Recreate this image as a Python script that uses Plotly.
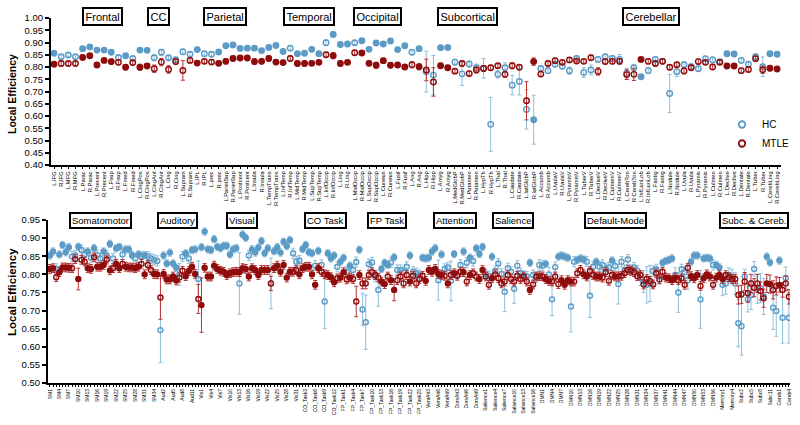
import plotly.graph_objects as go

# ---------------- TOP PANEL DATA (AAL-like regions) ----------------
TOP_REGIONS = ["L.IFG","R.IFG","L.MFG","R.MFG","L.Parac","R.Parac","L.Precent","R.Precent","L.Fsup","R.Fsup",
 "L.Fmed","R.Fmed","L.CingPos","R.CingPos","L.CingAnt","R.CingAnt","L.Cing","R.Cing","L.Supram","R.Supram",
 "L.IPL","R.IPL","L.prec","R.prec","L.ParietSup","R.ParietSup","L.Postcent","R.Postcent","L.Insula","R.Insula",
 "L.TempTrans","R.TempTrans","L.InfTemp","R.InfTemp","L.MidTemp","R.MidTemp","L.SupTemp","R.SupTemp","L.InfOccip","R.InfOccip",
 "L.Ling","R.Ling","L.MidOccip","R.MidOccip","L.SupOccip","R.SupOccip","L.Cuneus","R.Cuneus","L.Fusif","R.Fusif",
 "L.Ang","R.Ang","L.Hipp","R.Hipp","L.Amyg","R.Amyg","L.MedGlobP","R.MedGlobP","L.Putamen","R.Putamen",
 "L.HypTh","R.HypTh","L.Thal","R.Thal","L.Caudate","R.Caudate","L.latGlobP","R.latGlobP","L.Accumb","R.Accumb",
 "L.UvulaV","R.UvulaV","L.PyramisV","R.PyramisV","L.TuberV","R.TuberV","L.DecliveV","R.DecliveV","L.CulmenV","R.CulmenV",
 "L.CerebTon","R.CerebTon","L.InfLunLob","R.InfLunLob","L.Fastig","R.Fastig","L.Nodule","R.Nodule","L.Uvula","R.Uvula",
 "L.Pyramis","R.Pyramis","L.Culmen","R.Culmen","L.Declive","R.Declive","L.Dentate","R.Dentate","L.Tuber","R.Tuber",
 "L.CerebLing","R.CerebLing"]

TOP_HC = [0.856,0.842,0.849,0.842,0.875,0.882,0.869,0.869,0.860,0.839,
 0.846,0.835,0.869,0.868,0.838,0.860,0.838,0.830,0.862,0.852,
 0.871,0.854,0.852,0.861,0.887,0.890,0.876,0.877,0.877,0.867,
 0.880,0.888,0.863,0.877,0.854,0.856,0.872,0.854,0.899,0.933,
 0.892,0.894,0.899,0.907,0.872,0.898,0.894,0.906,0.871,0.887,
 0.860,0.875,0.781,0.767,0.879,0.880,0.820,0.772,0.812,0.797,
 0.795,0.566,0.770,0.797,0.726,0.741,0.627,0.585,0.794,0.785,
 0.811,0.803,0.785,0.835,0.778,0.788,0.831,0.842,0.835,0.831,
 0.775,0.797,0.760,0.785,0.831,0.823,0.692,0.781,0.809,0.801,
 0.793,0.834,0.829,0.822,0.854,0.853,0.827,0.811,0.842,0.801,
 0.854,0.852]
TOP_HC_ERR = [0.008,0.007,0.008,0.008,0.006,0.006,0.006,0.006,0.008,0.008,
 0.008,0.008,0.010,0.008,0.012,0.012,0.008,0.010,0.010,0.008,
 0.006,0.010,0.008,0.008,0.008,0.008,0.008,0.008,0.008,0.006,
 0.006,0.006,0.008,0.008,0.006,0.006,0.006,0.006,0.012,0.010,
 0.008,0.008,0.008,0.008,0.006,0.008,0.008,0.006,0.008,0.008,
 0.010,0.008,0.083,0.080,0.006,0.006,0.012,0.047,0.012,0.015,
 0.040,0.110,0.015,0.020,0.040,0.055,0.080,0.100,0.010,0.012,
 0.010,0.010,0.015,0.010,0.020,0.020,0.010,0.010,0.012,0.020,
 0.020,0.012,0.008,0.012,0.010,0.010,0.078,0.020,0.012,0.012,
 0.010,0.010,0.012,0.010,0.008,0.008,0.010,0.010,0.012,0.040,
 0.008,0.008]
TOP_MTLE = [0.811,0.814,0.814,0.814,0.839,0.846,0.808,0.827,0.822,0.819,
 0.799,0.818,0.799,0.804,0.793,0.820,0.790,0.822,0.786,0.827,
 0.816,0.823,0.820,0.815,0.823,0.835,0.837,0.837,0.822,0.823,
 0.835,0.820,0.818,0.835,0.814,0.814,0.815,0.819,0.850,0.846,
 0.814,0.819,0.858,0.857,0.815,0.807,0.826,0.807,0.808,0.800,
 0.809,0.801,0.788,0.739,0.805,0.797,0.783,0.814,0.773,0.788,
 0.794,0.797,0.805,0.770,0.805,0.799,0.662,0.822,0.771,0.814,
 0.826,0.819,0.829,0.824,0.823,0.838,0.782,0.822,0.823,0.823,
 0.769,0.770,0.831,0.823,0.814,0.823,0.799,0.809,0.784,0.797,
 0.822,0.819,0.800,0.819,0.804,0.804,0.785,0.790,0.834,0.789,
 0.795,0.792]
TOP_MTLE_ERR = [0.008,0.010,0.008,0.008,0.008,0.008,0.010,0.008,0.010,0.010,
 0.010,0.010,0.012,0.010,0.015,0.015,0.015,0.012,0.040,0.010,
 0.010,0.008,0.008,0.008,0.010,0.010,0.008,0.008,0.012,0.010,
 0.010,0.010,0.008,0.010,0.010,0.010,0.008,0.008,0.010,0.012,
 0.010,0.008,0.010,0.010,0.010,0.012,0.010,0.010,0.008,0.010,
 0.012,0.012,0.044,0.058,0.010,0.010,0.008,0.010,0.010,0.012,
 0.012,0.010,0.008,0.012,0.012,0.010,0.078,0.015,0.010,0.010,
 0.010,0.008,0.008,0.008,0.008,0.010,0.015,0.010,0.010,0.010,
 0.020,0.025,0.008,0.010,0.010,0.008,0.010,0.010,0.012,0.010,
 0.010,0.008,0.010,0.008,0.008,0.008,0.010,0.010,0.010,0.015,
 0.010,0.010]
# 1 = significant (filled marker), 0 = not significant (open marker)
TOP_SIG = [1,0,0,0,1,1,1,1,1,0, 1,0,1,1,0,0,0,0,0,0, 1,0,0,1,1,1,1,1,1,1,
 1,1,1,0,1,1,1,1,0,1, 1,1,0,1,1,1,1,1,1,1, 0,1,0,0,1,1,0,0,0,0,
 0,0,0,0,0,0,0,1,0,0, 0,0,0,0,0,0,0,0,0,0, 0,0,1,0,0,0,0,0,0,0,
 0,0,0,0,1,1,0,0,0,0, 1,1]

TOP_GROUPS = ["Frontal", "CC", "Parietal", "Temporal", "Occipital", "Subcortical", "Cerebellar"]

# ---------------- BOTTOM PANEL DATA (network nodes) ----------------
NET_NAMES = ["SM", "Aud", "Vis", "CO_Task", "FP_Task", "VentAtt", "DorsAtt", "Salience", "DMN", "Memory", "Subc", "Cereb"]
NET_NUMBERS = [list(range(1, 36)), list(range(1, 14)), list(range(1, 32)), list(range(1, 15)),
               list(range(1, 26)), list(range(1, 10)), list(range(1, 12)), list(range(1, 19)),
               list(range(1, 38)) + list(range(39, 59)), list(range(1, 6)), list(range(1, 14)), list(range(1, 5))]
BOT_NODES = [f"{n}{k}" for n, nums in zip(NET_NAMES, NET_NUMBERS) for k in nums]

BOT_HC = [0.852,0.863,0.815,0.855,0.881,0.861,0.875,0.849,0.852,0.876,
 0.867,0.855,0.863,0.846,0.872,0.853,0.844,0.863,0.852,0.884,
 0.844,0.872,0.876,0.855,0.869,0.869,0.853,0.844,0.855,0.849,
 0.853,0.849,0.844,0.840,0.837,0.646,0.852,0.830,0.860,0.830,
 0.818,0.800,0.849,0.858,0.844,0.867,0.869,0.787,0.875,0.918,
 0.869,0.867,0.897,0.876,0.872,0.879,0.879,0.855,0.869,0.872,
 0.775,0.910,0.901,0.852,0.869,0.860,0.874,0.892,0.858,0.872,
 0.775,0.864,0.875,0.860,0.890,0.878,0.895,0.858,0.835,0.838,
 0.870,0.881,0.861,0.858,0.824,0.865,0.826,0.725,0.858,0.844,
 0.852,0.821,0.835,0.846,0.807,0.824,0.812,0.834,0.868,0.703,
 0.668,0.828,0.833,0.794,0.757,0.815,0.832,0.826,0.833,0.847,
 0.812,0.812,0.806,0.821,0.852,0.807,0.803,0.798,0.846,0.844,
 0.846,0.863,0.872,0.784,0.855,0.815,0.819,0.782,0.856,0.798,
 0.826,0.863,0.832,0.846,0.837,0.872,0.856,0.876,0.800,0.795,
 0.849,0.809,0.830,0.801,0.752,0.817,0.807,0.760,0.824,0.803,
 0.796,0.794,0.832,0.798,0.792,0.826,0.824,0.829,0.800,0.731,
 0.820,0.849,0.852,0.849,0.846,0.711,0.835,0.840,0.844,0.841,
 0.835,0.741,0.821,0.835,0.821,0.826,0.815,0.819,0.838,0.823,
 0.773,0.835,0.812,0.841,0.812,0.819,0.810,0.789,0.780,0.771,
 0.775,0.809,0.814,0.794,
 0.832,0.837,0.840,0.844,0.798,0.750,
 0.814,0.806,0.784,0.835,0.852,0.852,0.731,0.844,0.846,0.844,
 0.826,0.826,0.819,0.771,0.775,0.798,0.794,0.775,0.665,0.657,
 0.794,0.731,0.743,0.815,0.760,0.762,0.739,0.849,0.833,0.708,
 0.699,0.838,0.680,0.790,0.680]
BOT_HC_ERR = [0.010,0.010,0.014,0.010,0.010,0.010,0.010,0.014,0.014,0.010,
 0.014,0.014,0.010,0.014,0.010,0.014,0.014,0.010,0.014,0.010,
 0.014,0.010,0.010,0.014,0.010,0.010,0.010,0.014,0.010,0.014,
 0.010,0.014,0.014,0.014,0.014,0.090,0.010,0.010,0.010,0.010,
 0.010,0.030,0.014,0.010,0.014,0.010,0.010,0.050,0.010,0.010,
 0.010,0.010,0.010,0.010,0.010,0.010,0.010,0.010,0.010,0.010,
 0.085,0.010,0.010,0.014,0.010,0.010,0.010,0.010,0.010,0.010,
 0.070,0.010,0.010,0.010,0.010,0.010,0.010,0.014,0.014,0.014,
 0.010,0.010,0.010,0.010,0.014,0.010,0.014,0.075,0.010,0.010,
 0.010,0.014,0.010,0.010,0.014,0.010,0.014,0.014,0.010,0.045,
 0.075,0.014,0.014,0.014,0.045,0.010,0.010,0.010,0.014,0.010,
 0.014,0.014,0.014,0.014,0.010,0.014,0.014,0.014,0.010,0.010,
 0.010,0.010,0.010,0.055,0.010,0.014,0.014,0.055,0.010,0.014,
 0.014,0.010,0.014,0.010,0.014,0.010,0.010,0.010,0.014,0.014,
 0.010,0.014,0.014,0.014,0.055,0.014,0.014,0.040,0.014,0.014,
 0.014,0.014,0.010,0.014,0.014,0.014,0.014,0.010,0.020,0.045,
 0.014,0.010,0.010,0.010,0.010,0.070,0.014,0.010,0.010,0.010,
 0.014,0.060,0.014,0.010,0.014,0.014,0.014,0.014,0.010,0.014,
 0.055,0.014,0.014,0.014,0.014,0.014,0.014,0.020,0.030,0.050,
 0.050,0.014,0.014,0.020,
 0.010,0.010,0.010,0.010,0.020,0.055,
 0.014,0.014,0.025,0.010,0.010,0.010,0.080,0.010,0.010,0.010,
 0.014,0.010,0.010,0.030,0.030,0.020,0.020,0.030,0.065,0.080,
 0.020,0.035,0.040,0.020,0.040,0.040,0.050,0.010,0.010,0.060,
 0.070,0.010,0.070,0.030,0.070]
BOT_HC_SIG = [1,1,0,1,1,1,1,0,0,1, 0,0,1,0,1,0,0,1,0,1, 0,1,1,0,1,1,1,0,1,0,
 1,0,0,0,0,0,1,1,1,1, 1,0,0,1,0,1,1,0,1,1, 1,1,1,1,1,1,1,1,1,1,
 0,1,1,0,1,1,1,1,1,1, 0,1,1,1,1,1,1,0,0,0, 1,1,1,1,0,1,0,0,1,1,
 1,0,1,1,0,1,0,0,1,0, 0,0,0,0,0,1,1,1,0,1, 0,0,0,0,1,0,0,0,1,1,
 1,1,1,0,1,0,0,0,1,0, 0,1,0,1,0,1,1,1,0,0, 1,0,0,0,0,0,0,0,0,0,
 0,0,1,0,0,0,0,1,0,0, 0,1,1,1,1,0,0,1,1,1, 0,0,0,1,0,0,0,0,1,0,
 0,0,0,0,0,0,0,0,0,0, 0,0,0,0,
 1,1,1,1,0,0, 0,0,0,1,1,1,0,1,1,1, 0,1,1,0,0,0,0,0,0,0,
 0,0,0,0,0,0,0,1,1,0, 0,1,0,0,0]

BOT_MTLE = [0.815,0.817,0.792,0.806,0.819,0.819,0.818,0.817,0.842,0.787,
 0.840,0.835,0.817,0.815,0.847,0.821,0.821,0.826,0.841,0.811,
 0.817,0.829,0.817,0.829,0.821,0.819,0.819,0.817,0.821,0.829,
 0.800,0.826,0.812,0.801,0.800,0.736,0.801,0.786,0.786,0.794,
 0.783,0.791,0.810,0.795,0.809,0.821,0.801,0.732,0.715,0.818,
 0.794,0.794,0.824,0.815,0.810,0.807,0.798,0.803,0.806,0.807,
 0.806,0.817,0.815,0.794,0.817,0.812,0.798,0.812,0.812,0.812,
 0.775,0.817,0.824,0.807,0.826,0.791,0.807,0.807,0.812,0.800,
 0.817,0.821,0.821,0.800,0.771,0.817,0.807,0.800,0.798,0.792,
 0.778,0.789,0.791,0.806,0.786,0.791,0.787,0.725,0.798,0.775,
 0.775,0.798,0.806,0.798,0.791,0.780,0.773,0.794,0.784,0.757,
 0.784,0.794,0.775,0.798,0.780,0.796,0.775,0.787,0.796,0.782,
 0.812,0.807,0.815,0.801,0.798,0.796,0.775,0.798,0.803,0.796,
 0.807,0.806,0.780,0.798,0.803,0.794,0.787,0.812,0.794,0.771,
 0.789,0.800,0.789,0.775,0.780,0.798,0.787,0.780,0.796,0.787,
 0.794,0.780,0.757,0.772,0.794,0.795,0.794,0.787,0.782,0.780,
 0.794,0.773,0.784,0.771,0.784,0.780,0.780,0.803,0.812,0.800,
 0.794,0.809,0.798,0.794,0.794,0.791,0.806,0.782,0.798,0.794,
 0.794,0.796,0.803,0.812,0.810,0.806,0.795,0.798,0.772,0.787,
 0.782,0.772,0.803,0.786,
 0.807,0.791,0.789,0.784,0.791,0.784,
 0.789,0.771,0.818,0.795,0.789,0.798,0.768,0.789,0.800,0.794,
 0.771,0.791,0.798,0.787,0.798,0.792,0.787,0.787,0.743,0.745,
 0.780,0.748,0.775,0.763,0.775,0.754,0.734,0.775,0.773,0.757,
 0.768,0.771,0.757,0.775,0.738]
BOT_MTLE_ERR = [0.012,0.012,0.012,0.012,0.012,0.012,0.012,0.012,0.012,0.030,
 0.012,0.012,0.012,0.012,0.012,0.012,0.012,0.012,0.012,0.012,
 0.012,0.012,0.012,0.012,0.012,0.012,0.012,0.012,0.012,0.012,
 0.012,0.012,0.012,0.012,0.012,0.060,0.012,0.012,0.012,0.012,
 0.012,0.012,0.012,0.012,0.012,0.012,0.012,0.040,0.075,0.012,
 0.012,0.012,0.012,0.012,0.012,0.012,0.012,0.012,0.012,0.012,
 0.012,0.012,0.012,0.012,0.012,0.012,0.012,0.012,0.012,0.012,
 0.020,0.012,0.012,0.012,0.012,0.012,0.012,0.012,0.012,0.012,
 0.012,0.012,0.012,0.012,0.012,0.012,0.012,0.012,0.012,0.012,
 0.012,0.012,0.012,0.012,0.012,0.012,0.012,0.042,0.012,0.015,
 0.015,0.012,0.012,0.012,0.012,0.012,0.012,0.012,0.012,0.030,
 0.012,0.012,0.012,0.012,0.012,0.012,0.012,0.012,0.012,0.012,
 0.012,0.012,0.012,0.012,0.012,0.012,0.012,0.012,0.012,0.012,
 0.012,0.012,0.012,0.012,0.012,0.012,0.012,0.012,0.012,0.012,
 0.012,0.012,0.012,0.012,0.012,0.012,0.012,0.012,0.012,0.012,
 0.012,0.012,0.012,0.012,0.012,0.012,0.012,0.012,0.012,0.012,
 0.012,0.012,0.012,0.012,0.012,0.012,0.012,0.012,0.012,0.012,
 0.012,0.012,0.012,0.012,0.012,0.012,0.012,0.012,0.012,0.012,
 0.012,0.012,0.012,0.012,0.012,0.012,0.012,0.012,0.012,0.012,
 0.012,0.012,0.012,0.012,
 0.012,0.012,0.012,0.012,0.012,0.012,
 0.012,0.012,0.012,0.012,0.012,0.012,0.012,0.012,0.012,0.012,
 0.012,0.012,0.012,0.012,0.012,0.012,0.012,0.012,0.025,0.025,
 0.025,0.025,0.025,0.025,0.025,0.025,0.025,0.025,0.025,0.025,
 0.025,0.020,0.020,0.020,0.020]
BOT_MTLE_SIG = [1,1,0,1,1,1,1,0,0,1, 0,0,1,1,0,1,1,1,0,1, 0,1,1,0,1,1,1,1,1,0,
 1,0,0,1,1,0,1,1,1,1, 1,0,0,1,1,1,1,0,1,1, 1,1,1,1,1,1,1,1,1,1,
 1,1,1,1,1,1,1,1,1,1, 0,1,1,1,1,1,1,0,0,1, 1,1,1,1,1,1,0,0,1,1,
 1,0,1,1,0,1,0,0,1,0, 0,0,0,0,0,1,1,0,1,1, 0,0,0,0,1,0,0,0,0,1,
 1,1,1,1,1,0,1,0,1,0, 0,1,0,1,0,0,1,1,0,0, 1,0,0,0,0,0,0,0,0,0,
 0,0,1,0,0,0,0,1,1,0, 0,0,1,1,1,1,0,0,0,1, 1,0,0,1,1,0,0,0,0,1,
 0,0,0,0,0,0,0,0,0,0, 0,0,0,0,
 0,1,1,1,1,0, 0,0,0,1,1,1,0,1,1,1, 0,1,1,1,0,0,0,0,0,0,
 0,0,0,0,0,0,0,1,1,0, 0,1,0,0,0]

BOT_GROUPS = ["Somatomotor", "Auditory", "Visual", "CO Task", "FP Task", "Attention", "Salience",
              "Default-Mode", "Subc. &amp; Cereb."]

for arr in (TOP_HC, TOP_HC_ERR, TOP_MTLE, TOP_MTLE_ERR, TOP_SIG):
    assert len(arr) == len(TOP_REGIONS), len(arr)
for arr in (BOT_HC, BOT_HC_ERR, BOT_HC_SIG, BOT_MTLE, BOT_MTLE_ERR, BOT_MTLE_SIG):
    assert len(arr) == len(BOT_NODES), (len(arr), len(BOT_NODES))

# ---------------- STYLE ----------------
HC_COL = "#5b9bc6"
HC_ERR_COL = "#8fbedb"
MT_COL = "#8e0c0c"
MT_ERR_COL = "#b83232"
FONT = "Arial, 'Liberation Sans', sans-serif"
W, H = 800, 425


def px_x(p):
    return p / W


def px_y(p):
    return 1 - p / H


def symbols(flags):
    return ["circle" if f else "circle-open" for f in flags]


fig = go.Figure()


def add_series(x, y, err, flags, col, ecol, xa, ya, size):
    fig.add_trace(go.Scatter(
        x=x, y=y, mode="markers", xaxis=xa, yaxis=ya, showlegend=False,
        marker=dict(symbol=symbols(flags), size=size, color=col,
                    line=dict(width=1.4, color=col)),
        error_y=dict(type="data", array=err, color=ecol, thickness=1, width=2),
    ))


add_series(TOP_REGIONS, TOP_HC, TOP_HC_ERR, TOP_SIG, HC_COL, HC_ERR_COL, "x", "y", 5.5)
add_series(TOP_REGIONS, TOP_MTLE, TOP_MTLE_ERR, TOP_SIG, MT_COL, MT_ERR_COL, "x", "y", 5.5)
add_series(BOT_NODES, BOT_HC, BOT_HC_ERR, BOT_HC_SIG, HC_COL, HC_ERR_COL, "x2", "y2", 5)
add_series(BOT_NODES, BOT_MTLE, BOT_MTLE_ERR, BOT_MTLE_SIG, MT_COL, MT_ERR_COL, "x2", "y2", 5)

# legend entries
for name, col in (("HC", HC_COL), ("MTLE", MT_COL)):
    fig.add_trace(go.Scatter(x=[None], y=[None], mode="markers", name=name,
                             marker=dict(symbol="circle-open", size=6.5, color=col,
                                         line=dict(width=1.8, color=col)),
                             xaxis="x", yaxis="y"))

bot_ticktext = [n if i % 3 == 0 else "" for i, n in enumerate(BOT_NODES)]

axis_common = dict(showline=True, linecolor="black", linewidth=2, ticks="outside",
                   tickcolor="black", showgrid=False, zeroline=False, automargin=False)

fig.update_layout(
    width=W, height=H, margin=dict(l=0, r=0, t=0, b=0),
    paper_bgcolor="white", plot_bgcolor="white",
    font=dict(family=FONT, color="black"),
    xaxis=dict(domain=[px_x(51), px_x(781)], anchor="y", type="category",
               categoryorder="array", categoryarray=TOP_REGIONS,
               range=[-0.42, 101.55], tickmode="array", tickvals=TOP_REGIONS, ticktext=TOP_REGIONS,
               tickangle=-90, tickfont=dict(size=5.8, family=FONT), ticklen=2, tickwidth=1, **axis_common),
    yaxis=dict(domain=[px_y(165), px_y(18)], anchor="x", range=[0.40, 1.00], dtick=0.05,
               tick0=0.40, tickformat=".2f", tickfont=dict(size=9.5, family=FONT),
               ticklen=4, tickwidth=1.5, **axis_common),
    xaxis2=dict(domain=[px_x(48), px_x(790)], anchor="y2", type="category",
                categoryorder="array", categoryarray=BOT_NODES,
                range=[-0.6, 234.35], tickmode="array", tickvals=BOT_NODES, ticktext=bot_ticktext,
                tickangle=-90, tickfont=dict(size=5, family=FONT), ticklen=2, tickwidth=1, **axis_common),
    yaxis2=dict(domain=[px_y(383), px_y(220)], anchor="x2", range=[0.50, 0.95], dtick=0.05,
                tick0=0.50, tickformat=".2f", tickfont=dict(size=9.5, family=FONT),
                ticklen=4, tickwidth=1.5, **axis_common),
    legend=dict(x=px_x(722), y=px_y(110), xanchor="left", yanchor="top",
                font=dict(size=10, family=FONT), bgcolor="rgba(0,0,0,0)", tracegroupgap=0),
)

ann = []
top_pos = [102, 158, 225, 309, 377, 467, 651]
for name, cx in zip(TOP_GROUPS, top_pos):
    ann.append(dict(x=px_x(cx), y=px_y(16.5), xref="paper", yref="paper", text=name, showarrow=False,
                    xanchor="center", yanchor="middle",
                    font=dict(size=11, family=FONT), bordercolor="black", borderwidth=2,
                    borderpad=1.5, bgcolor="white"))
bot_pos = [100, 177.5, 242, 325, 386.5, 455, 512.5, 615, 754]
for name, cx in zip(BOT_GROUPS, bot_pos):
    ann.append(dict(x=px_x(cx), y=px_y(220.5), xref="paper", yref="paper", text=name, showarrow=False,
                    xanchor="center", yanchor="middle",
                    font=dict(size=9.5, family=FONT), bordercolor="black", borderwidth=2,
                    borderpad=1, bgcolor="white"))
ann.append(dict(x=px_x(12), y=px_y(94), xref="paper", yref="paper", text="<b>Local Efficiency</b>",
                xanchor="center", yanchor="middle",
                showarrow=False, textangle=-90, font=dict(size=10.5, family=FONT)))
ann.append(dict(x=px_x(12), y=px_y(292), xref="paper", yref="paper", text="<b>Local Efficiency</b>",
                xanchor="center", yanchor="middle",
                showarrow=False, textangle=-90, font=dict(size=11.5, family=FONT)))
fig.update_layout(annotations=ann)

# remove the browser's default 8px body margin so the figure sits at the window origin
fig.write_html("out.html", config={"displayModeBar": False},
               post_script="document.body.style.margin='0px';")
